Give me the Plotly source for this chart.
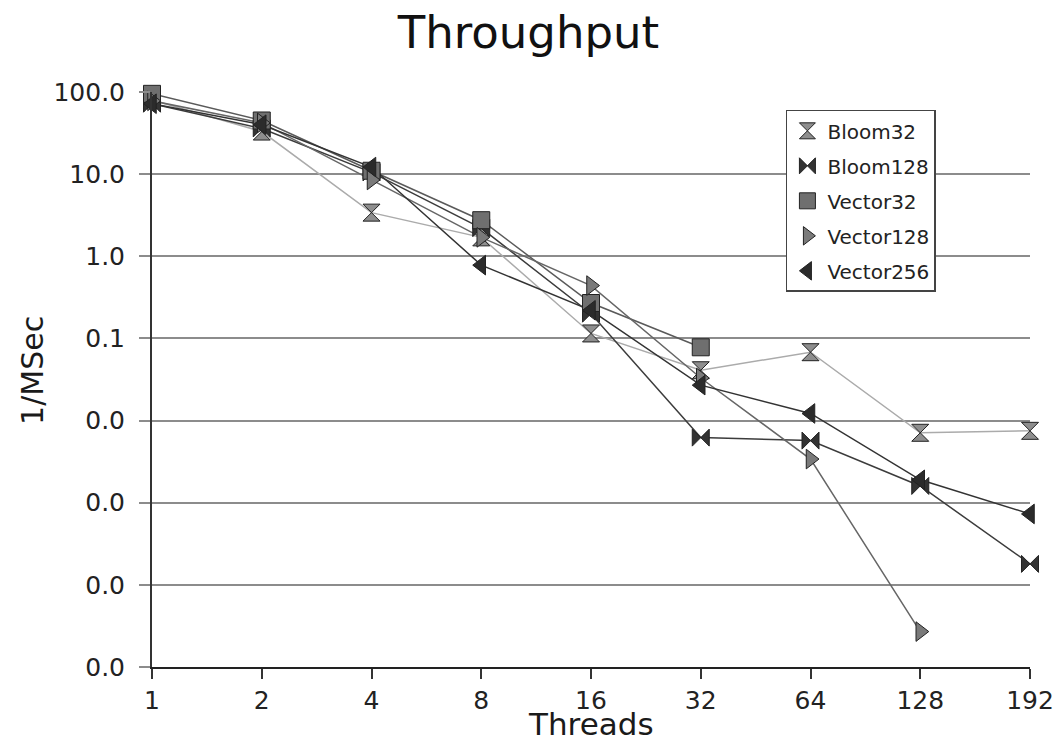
import plotly.graph_objects as go

threads = ["1", "2", "4", "8", "16", "32", "64", "128", "192"]
bloom32 = [80, 33, 3.4, 1.7, 0.115, 0.041, 0.068, 0.0071, 0.0075]
bloom128 = [72, 36, 10.5, 2.2, 0.20, 0.0062, 0.0057, 0.0016, 0.00018]
vector32 = [95, 45, 11, 2.75, 0.27, 0.078, None, None, None]
vector128 = [78, 42, 8.5, 1.7, 0.44, 0.033, 0.0034, 0.000027, None]
vector256 = [72, 40, 12.2, 0.78, 0.22, 0.027, 0.0122, 0.0019, 0.00073]

ytick_vals = [100, 10, 1, 0.1, 0.01, 0.001, 0.0001, 0.00001]
ytick_text = ["100.0", "10.0", "1.0", "0.1", "0.0", "0.0", "0.0", "0.0"]

series = [
    ("Bloom32", bloom32, "hourglass", "#8e8e8e", "#ababab"),
    ("Bloom128", bloom128, "bowtie", "#333333", "#3c3c3c"),
    ("Vector32", vector32, "square", "#6f6f6f", "#5a5a5a"),
    ("Vector128", vector128, "triangle-right", "#7a7a7a", "#666666"),
    ("Vector256", vector256, "triangle-left", "#2b2b2b", "#333333"),
]

xidx = list(range(len(threads)))
fig = go.Figure()
for name, vals, sym, fill, lcol in series:
    fig.add_trace(go.Scatter(
        x=xidx, y=vals, mode="lines", line=dict(color=lcol, width=1.5),
        showlegend=False, hoverinfo="skip", cliponaxis=False,
    ))
for name, vals, sym, fill, lcol in series:
    fig.add_trace(go.Scatter(
        x=xidx, y=vals, mode="markers", name=name, legendgroup=name,
        marker=dict(symbol=sym, size=17, color=fill,
                    line=dict(color="#222222", width=1)),
        cliponaxis=False,
    ))

fig.update_layout(
    width=1057, height=743,
    paper_bgcolor="white", plot_bgcolor="white",
    margin=dict(l=152, r=27, t=92, b=76),
    font=dict(family="DejaVu Sans", color="#1a1a1a"),
    title=dict(text="Throughput", x=0.5, xref="container", xanchor="center",
               y=0.935, yref="container", yanchor="bottom",
               font=dict(size=45, color="#111111")),
    showlegend=True,
    legend=dict(x=0.722, y=0.969, xanchor="left", yanchor="top",
                bgcolor="white", bordercolor="#444444", borderwidth=1.5,
                font=dict(size=20, color="#222222"),
                traceorder="grouped", tracegroupgap=6,
                itemwidth=30),
)

fig.update_xaxes(
    range=[0, 8], tickvals=xidx, ticktext=threads,
    showgrid=False, zeroline=False, automargin=False,
    showline=True, linecolor="#222222", linewidth=2,
    ticks="outside", ticklen=10, tickwidth=1.5, tickcolor="#333333",
    tickfont=dict(size=25, color="#222222"),
    ticklabeloverflow="allow",
)
fig.update_yaxes(
    type="log", range=[-5, 2], tickvals=ytick_vals, ticktext=ytick_text,
    showgrid=True, gridcolor="#8c8c8c", gridwidth=2,
    zeroline=False, automargin=False,
    showline=True, linecolor="#333333", linewidth=2,
    ticks="outside", ticklen=11, tickwidth=2, tickcolor="#8c8c8c",
    ticklabelstandoff=9,
    tickfont=dict(size=25, color="#222222"),
)

fig.add_annotation(text="Threads", xref="paper", yref="paper",
                   x=0.5, y=-0.066, xanchor="center", yanchor="top",
                   borderpad=0,
                   showarrow=False, font=dict(size=31, color="#1a1a1a"))
fig.add_annotation(text="1/MSec", xref="paper", yref="paper",
                   x=-0.1355, y=0.515, xanchor="center", yanchor="middle",
                   textangle=-90, showarrow=False,
                   font=dict(size=30, color="#1a1a1a"))

fig.write_html(
    "out.html",
    config={"displayModeBar": False},
    post_script="document.body.style.margin='0';document.body.style.overflow='hidden';",
)
